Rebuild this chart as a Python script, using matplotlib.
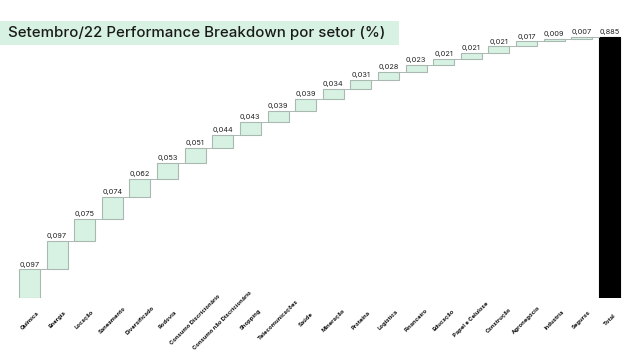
import matplotlib
matplotlib.use("Agg")
import matplotlib.pyplot as plt
from matplotlib.patches import Rectangle
import numpy as np

categories = ["Química", "Energia", "Locação", "Saneamento", "Diversificado", "Rodovia",
              "Consumo Discricionário", "Consumo não Discricionário", "Shopping",
              "Telecomunicações", "Saúde", "Mineração", "Proteína", "Logística",
              "Financeiro", "Educação", "Papel e Celulose", "Construção", "Agronegócio",
              "Industria", "Seguros", "Total"]
values = [0.097, 0.097, 0.075, 0.074, 0.062, 0.053, 0.051, 0.044, 0.043, 0.039, 0.039,
          0.034, 0.031, 0.028, 0.023, 0.021, 0.021, 0.021, 0.017, 0.009, 0.007]
total = 0.885
title = "Setembro/22 Performance Breakdown por setor (%)"

plt.rcParams['font.family'] = ['Inter', 'DejaVu Sans']

fig = plt.figure(figsize=(6.42, 3.53), dpi=100)
ax = fig.add_axes([0.0201, 0.1558, 0.955, 0.752])

n = len(values)
x = np.arange(n + 1)
cum = np.concatenate([[0], np.cumsum(values)])
bottoms = cum[:-1]
w = 0.76
ax.bar(x[:n], values, bottom=bottoms, width=w, color="#d7f2e3", edgecolor="#a9b8b0", linewidth=0.8)
ax.bar(x[n], total, width=w, color="#000000", edgecolor="#000000", linewidth=0.8)

# connectors
for i in range(n):
    ax.plot([x[i] + w / 2, x[i + 1] - w / 2], [cum[i + 1], cum[i + 1]], color="#a9b8b0", lw=0.7)

all_vals = values + [total]
tops = list(cum[1:]) + [total]
for i, (v, t) in enumerate(zip(all_vals, tops)):
    ax.text(x[i], t + 0.006, f"{v:.3f}".replace(".", ","), ha="center", va="bottom",
            fontsize=5.3, color="#222222")

ax.set_xlim(-0.6, n + 0.6)
ax.set_ylim(0, 0.9)
ax.set_xticks([])
for i, c in enumerate(categories):
    ax.annotate(c, xy=(x[i], 0), xycoords=("data", "axes fraction"),
                xytext=(0, -22), textcoords="offset pixels",
                rotation=45, ha="center", va="center", fontsize=4.2,
                fontweight="bold", color="#111111")
ax.set_yticks([])
for s in ax.spines.values():
    s.set_visible(False)

fig.patches.append(Rectangle((0, 0.8725), 399 / 642, 0.068, transform=fig.transFigure,
                             facecolor="#d7f2e3", edgecolor="none", zorder=0))
fig.text(8 / 642, 0.9065, title, fontsize=10.8, color="#1a1a1a", va="center", ha="left",
         fontweight="medium")

fig.savefig("out.png", dpi=100)
